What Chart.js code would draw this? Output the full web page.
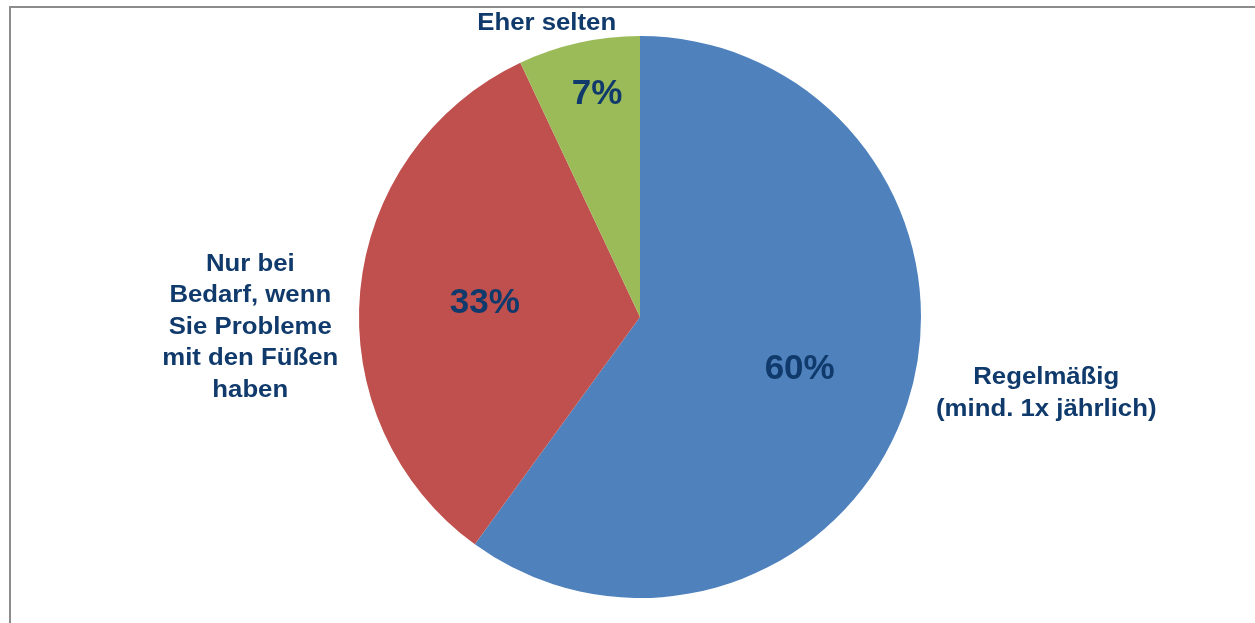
<!DOCTYPE html>
<html>
<head>
<meta charset="utf-8">
<script src="https://cdn.jsdelivr.net/npm/chart.js@4/dist/chart.umd.min.js"></script>
<style>
  html, body { margin: 0; padding: 0; background: #fff; }
  #wrap { position: relative; width: 1255px; height: 623px; overflow: hidden; }
  #frame { position: absolute; left: 9px; top: 6px; width: 1300px; height: 700px;
           border-left: 2px solid #8c8c8c; border-top: 2px solid #8c8c8c; }
  canvas { position: absolute; left: 0; top: 0; }
</style>
</head>
<body>
<div id="wrap">
  <div id="frame"></div>
  <canvas id="pie" width="1255" height="623"></canvas>
</div>
<script>
// ---------------- data ----------------
const categories = [
  ['Regelmäßig', '(mind. 1x jährlich)'],
  ['Nur bei', 'Bedarf, wenn', 'Sie Probleme', 'mit den Füßen', 'haben'],
  ['Eher selten'],
];
const shares = [60, 33, 7];
const sliceColors = ['#4F81BD', '#C0504D', '#9BBB59'];

// ---------------- label placement (style) ----------------
const textColor = '#103A6B';
const pctRadius = [0.59, 0.555, 0.815];           // fraction of radius along mid angle
const pctNudge = [[2, 0], [0, 0], [7, 0]];        // small px corrections
const outerShift = [[139, -10], [-110, 37], [-32, -19]]; // px from arc edge at mid angle

const labelPlugin = {
  id: 'pieLabels',
  afterDatasetsDraw(chart) {
    const ctx = chart.ctx;
    const meta = chart.getDatasetMeta(0);
    meta.data.forEach((arc, i) => {
      const { x, y, startAngle, endAngle, outerRadius } = arc.getProps(['x', 'y', 'startAngle', 'endAngle', 'outerRadius'], true);
      const mid = (startAngle + endAngle) / 2;

      // percentage inside slice
      ctx.save();
      ctx.fillStyle = textColor;
      ctx.font = 'bold 35px "Liberation Sans", Arial, sans-serif';
      ctx.textAlign = 'center';
      ctx.textBaseline = 'middle';
      const pr = outerRadius * pctRadius[i];
      ctx.fillText(shares[i] + '%', x + pr * Math.cos(mid) + pctNudge[i][0], y + pr * Math.sin(mid) + 1 + pctNudge[i][1]);
      ctx.restore();

      // category label outside
      const ex = x + outerRadius * Math.cos(mid) + outerShift[i][0];
      const ey = y + outerRadius * Math.sin(mid) + outerShift[i][1];
      const lines = categories[i];
      const lh = 31.5;
      ctx.save();
      ctx.fillStyle = textColor;
      ctx.font = 'bold 23px "Liberation Sans", Arial, sans-serif';
      ctx.textAlign = 'center';
      ctx.textBaseline = 'middle';
      ctx.translate(ex, ey);
      ctx.scale(1.12, 1);
      lines.forEach((t, k) => {
        ctx.fillText(t, 0, (k - (lines.length - 1) / 2) * lh);
      });
      ctx.restore();
    });
  }
};

new Chart(document.getElementById('pie'), {
  type: 'pie',
  data: {
    labels: categories.map((c) => c.join(' ')),
    datasets: [{
      data: shares,
      backgroundColor: sliceColors,
      borderWidth: 0,
    }],
  },
  options: {
    responsive: false,
    animation: false,
    layout: { padding: { left: 359, right: 334, top: 36, bottom: 25 } },
    plugins: {
      legend: { display: false },
      tooltip: { enabled: false },
    },
  },
  plugins: [labelPlugin],
});
</script>
</body>
</html>
